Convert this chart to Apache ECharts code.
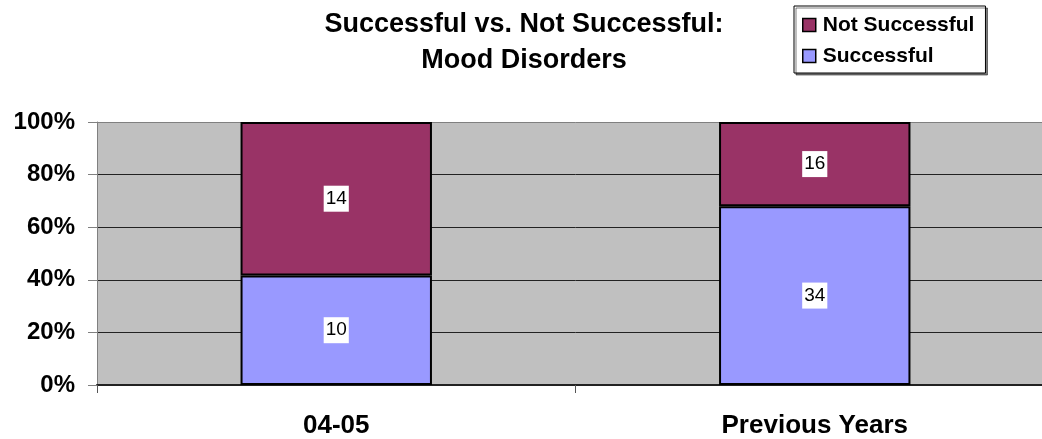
<!DOCTYPE html>
<html>
<head>
<meta charset="utf-8">
<script src="https://cdn.jsdelivr.net/npm/echarts@6/dist/echarts.min.js"></script>
<style>html,body{margin:0;padding:0;background:#fff;width:1042px;height:439px;overflow:hidden;}#c{width:1054px;height:439px;}</style>
</head>
<body>
<div id="c"></div>
<script>
const categories = ['04-05', 'Previous Years'];
const successfulCounts = [10, 34];
const notSuccessfulCounts = [14, 16];
const yTicks = [0, 20, 40, 60, 80, 100];

const totals = categories.map((c, i) => successfulCounts[i] + notSuccessfulCounts[i]);
const pct = (arr) => arr.map((v, i) => ({ value: v / totals[i] * 100, count: v }));

const FONT = '"Liberation Sans", Arial, sans-serif';
const chart = echarts.init(document.getElementById('c'));
const labelCfg = {
  show: true,
  position: 'inside',
  formatter: p => String(p.data.count),
  color: '#000',
  fontFamily: FONT,
  fontSize: 19,
  backgroundColor: '#fff',
  padding: [4, 2, 3, 2]
};
chart.setOption({
  animation: false,
  title: {
    text: 'Successful vs. Not Successful:\nMood Disorders',
    left: 519,
    textAlign: 'center',
    top: 2,
    textStyle: { fontFamily: FONT, fontSize: 27, fontWeight: 'bold', color: '#000', lineHeight: 36 }
  },
  legend: {
    orient: 'vertical',
    left: 794,
    top: 6,
    padding: [7, 11, 5, 8],
    itemGap: 7,
    itemWidth: 13,
    itemHeight: 13,
    backgroundColor: '#fff',
    borderColor: '#000',
    borderWidth: 1,
    shadowColor: 'rgba(0,0,0,0.5)',
    shadowOffsetX: 2,
    shadowOffsetY: 2,
    shadowBlur: 0,
    icon: 'rect',
    data: ['Not Successful', 'Successful'],
    textStyle: { fontFamily: FONT, fontSize: 21, fontWeight: 'bold', color: '#000', lineHeight: 24, padding: [0, 0, 0, 2] },
    itemStyle: { borderColor: '#000', borderWidth: 1.5 }
  },
  grid: {
    left: 97, top: 122, right: 0, bottom: 53,
    show: true, backgroundColor: '#C0C0C0', borderColor: '#808080', borderWidth: 0
  },
  xAxis: {
    type: 'category',
    data: categories,
    axisLine: { show: true, lineStyle: { color: '#222', width: 2 } },
    axisTick: { show: true, length: 8, lineStyle: { color: '#555' } },
    axisLabel: { color: '#000', fontFamily: FONT, fontSize: 26, fontWeight: 'bold', margin: 28 }
  },
  yAxis: {
    type: 'value',
    min: yTicks[0],
    max: yTicks[yTicks.length - 1],
    interval: 20,
    axisLine: { show: true, lineStyle: { color: '#808080', width: 1 } },
    axisTick: { show: true, length: 9, lineStyle: { color: '#808080' } },
    axisLabel: { formatter: '{value}%', color: '#000', fontFamily: FONT, fontSize: 24, fontWeight: 'bold', margin: 22 },
    splitLine: { show: true, lineStyle: { color: ['#222', '#222', '#222', '#222', '#222', '#808080'], width: 1 } }
  },
  series: [
    {
      name: 'Successful', type: 'bar', stack: 'a', barWidth: '40%',
      data: pct(successfulCounts),
      itemStyle: { color: '#9999FF', borderColor: '#000', borderWidth: 2 },
      label: labelCfg
    },
    {
      name: 'Not Successful', type: 'bar', stack: 'a', barWidth: '40%',
      data: pct(notSuccessfulCounts),
      itemStyle: { color: '#993366', borderColor: '#000', borderWidth: 2 },
      label: labelCfg
    }
  ]
});
</script>
</body>
</html>
